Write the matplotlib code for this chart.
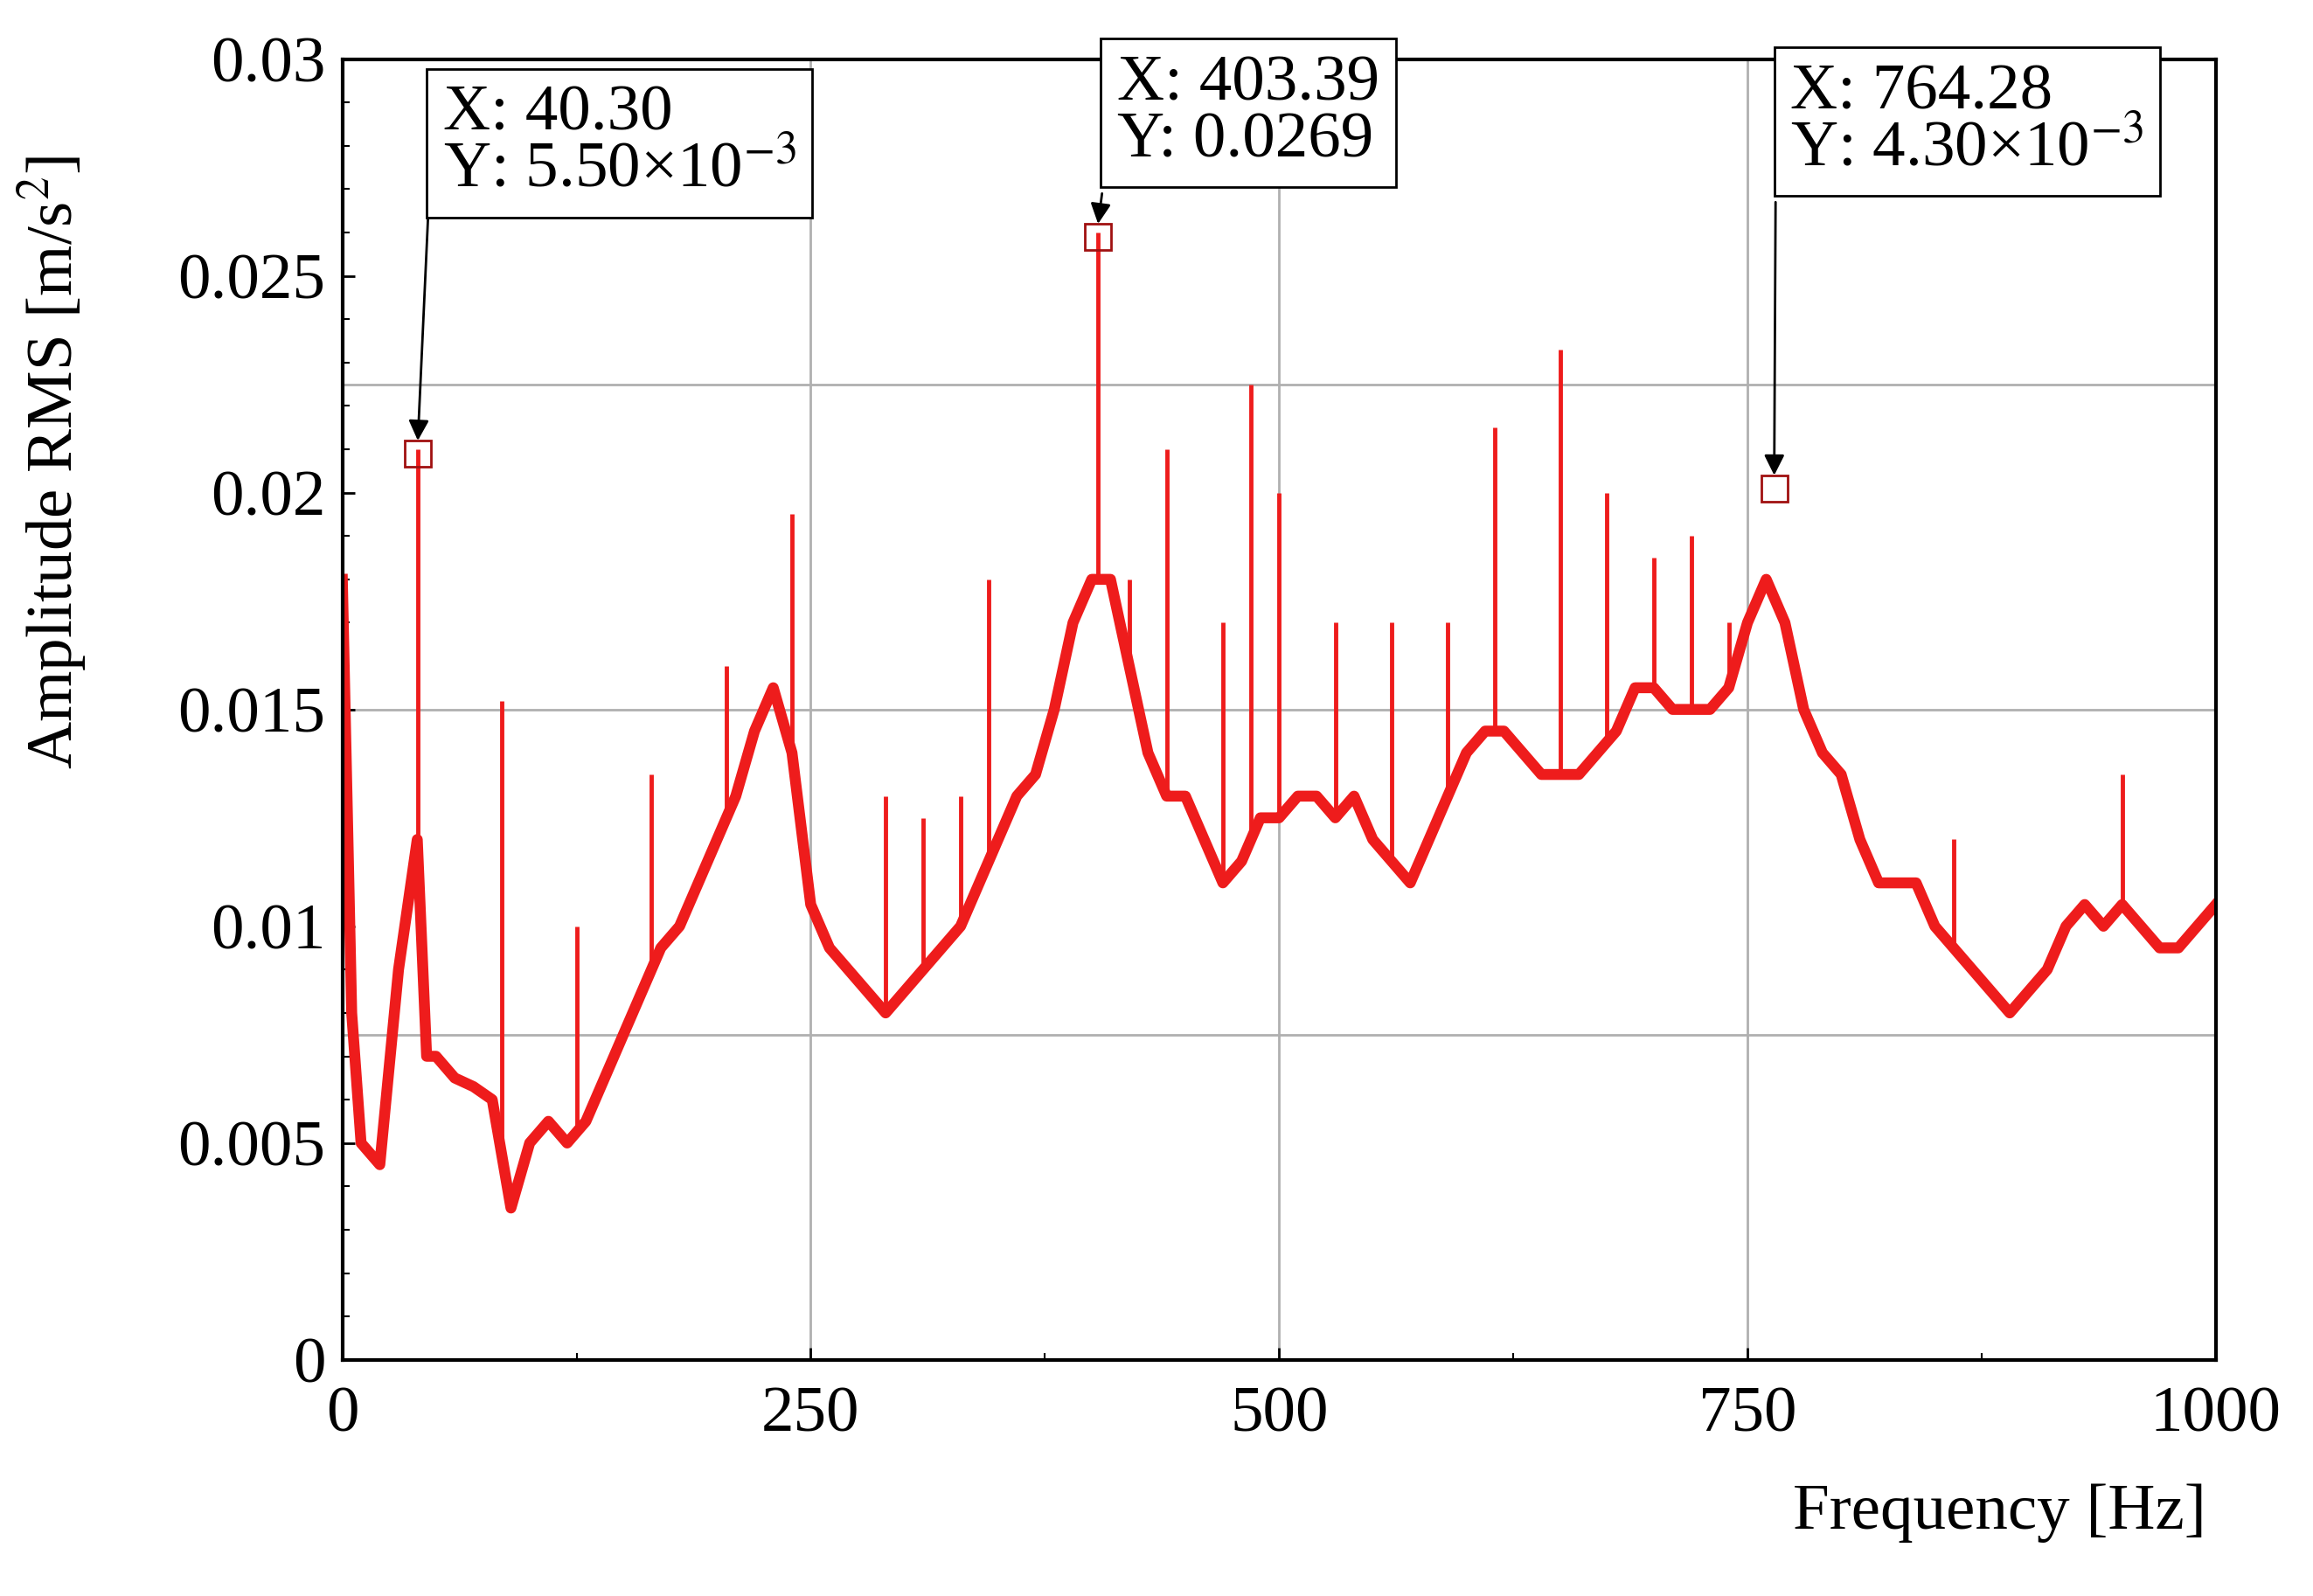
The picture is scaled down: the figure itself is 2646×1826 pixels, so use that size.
import numpy as np
import matplotlib
matplotlib.use("Agg")
import matplotlib.pyplot as plt
from matplotlib.ticker import MultipleLocator

base_f = np.array([0,5,10,20,30,40,45,50,60,70,80,90,100,110,120,130,140,150,160,170,180,190,200,210,220,230,240,250,260,270,280,290,300,310,320,330,340,350,360,370,380,390,400,410,420,430,440,450,460,470,480,490,500,510,520,530,540,550,560,570,580,590,600,610,620,630,640,650,660,670,680,690,700,710,720,730,740,750,760,770,780,790,800,810,820,830,840,850,860,870,880,890,900,910,920,930,940,950,960,970,980,990,1000])
base_v = np.array([18,8,5,4.5,9,12,7,7,6.5,6.3,6,3.5,5,5.5,5,5.5,6.5,7.5,8.5,9.5,10,11,12,13,14.5,15.5,14,10.5,9.5,9,8.5,8,8.5,9,9.5,10,11,12,13,13.5,15,17,18,18,16,14,13,13,12,11,11.5,12.5,12.5,13,13,12.5,13,12,11.5,11,12,13,14,14.5,14.5,14,13.5,13.5,13.5,14,14.5,15.5,15.5,15,15,15,15.5,17,18,17,15,14,13.5,12,11,11,11,10,9.5,9,8.5,8,8.5,9,10,10.5,10,10.5,10,9.5,9.5,10,10.5])*1e-3
spike_f = np.array([40.3,85,125,165,205,240,290,310,330,345,403.39,420,440,470,485,500,530,560,590,615,650,675,700,720,740,860,950])
spike_v = np.array([21,15.2,10,13.5,16,19.5,13,12.5,13,18,26,18,21,17,22.5,20,17,17,17,21.5,23.3,20,18.5,19,17,12,13.5])*1e-3
mark_x = [40.30, 403.39, 764.28]
mark_y = [0.0209, 0.0259, 0.0201]
labels = ["X: 40.30\nY: 5.50×10$^{-3}$", "X: 403.39\nY: 0.0269", "X: 764.28\nY: 4.30×10$^{-3}$"]
box_xy = [(45.7, 0.0294), (405.5, 0.0301), (765, 0.0299)]
box_bottom = [0.0263, 0.0269, 0.0267]

plt.rcParams['font.family'] = ['Liberation Serif', 'DejaVu Serif']
plt.rcParams['mathtext.fontset'] = 'stix'
fig = plt.figure(figsize=(26.46, 18.26), dpi=100)
ax = fig.add_axes([0.148, 0.148, 0.81, 0.815])
red = '#ee1c1c'
ax.plot(base_f, base_v, color=red, lw=9, solid_joinstyle='round')
ax.vlines(spike_f, np.interp(spike_f, base_f, base_v), spike_v, color=red, lw=3.5)
ax.plot(mark_x, mark_y, 's', mfc='none', mec='#a01010', ms=22, mew=2, zorder=6)
ax.set_xlim(0, 1000); ax.set_ylim(0, 0.03)
ax.set_xticks([0, 250, 500, 750, 1000])
ax.set_yticks([0, 0.005, 0.01, 0.015, 0.02, 0.025, 0.03])
ax.set_yticklabels(['0', '0.005', '0.01', '0.015', '0.02', '0.025', '0.03'])
ax.xaxis.set_minor_locator(MultipleLocator(125))
ax.yaxis.set_minor_locator(MultipleLocator(0.001))
for v in [250, 500, 750]:
    ax.axvline(v, color='#b0b0b0', lw=2, zorder=0)
for v in [0.0075, 0.015, 0.0225]:
    ax.axhline(v, color='#b0b0b0', lw=2, zorder=0)
ax.tick_params(labelsize=54, width=2, length=10, direction='in')
ax.tick_params(axis='x', pad=22)
ax.tick_params(axis='y', pad=14)
ax.tick_params(which='minor', width=1.5, length=6, direction='in')
for s in ax.spines.values():
    s.set_linewidth(3)
ax.set_ylabel('Amplitude RMS [m/s$^2$]', fontsize=54)
ax.yaxis.set_label_coords(-0.135, 0.69)
ax.set_xlabel('Frequency [Hz]', fontsize=54)
ax.xaxis.set_label_coords(0.995, -0.095); ax.xaxis.label.set_ha('right')
for (bx, by), lab, mx, my, bb in zip(box_xy, labels, mark_x, mark_y, box_bottom):
    ax.text(bx + 8, by, lab, fontsize=54, va='top', ha='left', linespacing=0.95,
            bbox=dict(boxstyle='square,pad=0.25', fc='white', ec='black', lw=2), clip_on=False, zorder=5)
    ax.annotate('', xy=(mx, my + 0.0003), xytext=(bx, bb),
                arrowprops=dict(arrowstyle='-|>', color='black', lw=2, mutation_scale=35, shrinkA=0, shrinkB=0), zorder=4)
fig.savefig('out.png', dpi=100)
